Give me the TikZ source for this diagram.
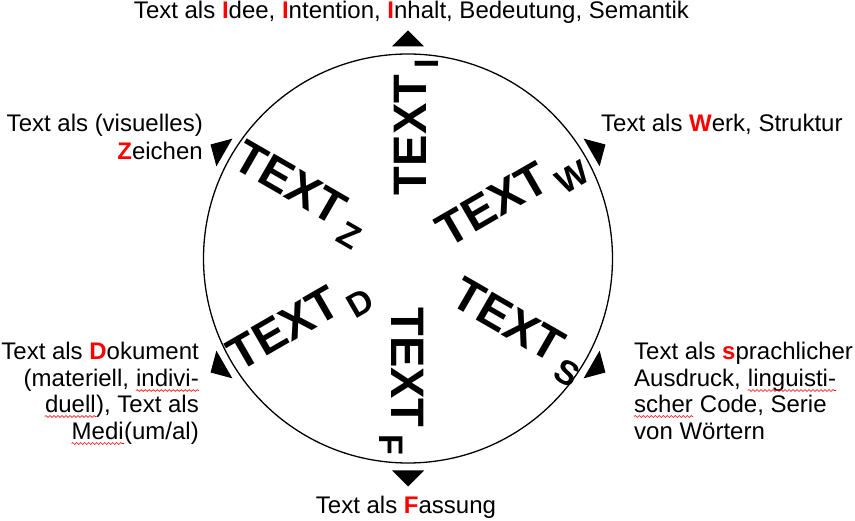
\documentclass[tikz,border=0pt]{standalone}
\usepackage{fontspec}
\setmainfont{Liberation Sans}
\usetikzlibrary{decorations.pathmorphing}
\newcommand\R[1]{\textcolor{red}{\bfseries #1}}
\newcommand\tsub[1]{\rlap{\hspace{6.5pt}\smash{\raisebox{-12pt}{\fontsize{34}{34}\selectfont #1}}}}
\tikzset{
  big/.style={font=\fontsize{47}{47}\selectfont\bfseries, inner sep=0pt},
  lbl/.style={font=\fontsize{24}{27.6}\selectfont, inner sep=0pt},
  ring/.style={line width=1.3pt},
  tri/.style={fill=black},
  squig/.style={draw=red, line width=0.6pt, decorate,
    decoration={snake, amplitude=0.9pt, segment length=4pt}}
}
\begin{document}
\begin{tikzpicture}[x=1pt,y=1pt]
\useasboundingbox (0,0) rectangle (855,-521);
\coordinate (c) at (408,-258.5);
\draw[ring] (c) circle (204.5);
\foreach \a in {90,30,150,210,270,330}{
  \begin{scope}[shift={(c)}, rotate=\a]
    \fill[tri] (212,-16) -- (228,0) -- (212,16) -- cycle;
  \end{scope}
}
% big TEXT labels
\node[big, rotate=90]  (ti) at (410.5,-135)   {TEXT\tsub{I}};
\node[big, rotate=-90] (tf) at (407.5,-367.5) {TEXT\tsub{F}};
\node[big, rotate=30]  (tw) at (492.5,-204)   {TEXT\tsub{W}};
\node[big, rotate=-30] (ts) at (508.3,-320)   {TEXT\tsub{S}};
\node[big, rotate=-30] (tz) at (290.7,-182.5) {TEXT\tsub{Z}};
\node[big, rotate=30]  (td) at (283.3,-328.3) {TEXT\tsub{D}};
% outer labels
\node[lbl, anchor=base] (lt) at (411.5,-18.5) {Text als \R{I}dee, \R{I}ntention, \R{I}nhalt, Bedeutung, Semantik};
\node[lbl, anchor=base east] (z1) at (203,-132) {Text als (visuelles)};
\node[lbl, anchor=base east] (z2) at (203,-160) {\R{Z}eichen};
\node[lbl, anchor=base west] (w1) at (601,-132) {Text als \R{W}erk, Struktur};
% Dokument
\node[lbl, anchor=base east] (d1) at (199,-360) {Text als \R{D}okument};
\node[lbl, anchor=base east] (d2b) at (199,-387) {indivi-};
\node[lbl, anchor=base east] (d2a) at (d2b.base west) {(materiell,\ \null};
\node[lbl, anchor=base east] (d3b) at (199,-413) {), Text als};
\node[lbl, anchor=base east] (d3a) at (d3b.base west) {duell};
\node[lbl, anchor=base east] (d4b) at (199,-440) {(um/al)};
\node[lbl, anchor=base east] (d4a) at (d4b.base west) {Medi};
% sprachlich
\node[lbl, anchor=base west] (s1) at (634,-360) {Text als \R{s}prachlicher};
\node[lbl, anchor=base west] (s2a) at (634,-387) {Ausdruck,\ \null};
\node[lbl, anchor=base west] (s2b) at (s2a.base east) {linguisti-};
\node[lbl, anchor=base west] (s3a) at (634,-413) {scher};
\node[lbl, anchor=base west] (s3b) at (s3a.base east) {\null\ Code, Serie};
\node[lbl, anchor=base west] (s4) at (634,-440) {von Wörtern};
\node[lbl, anchor=base] (lf) at (406,-513) {Text als \R{F}assung};
% spell-check squiggles
\foreach \n in {d2b,d3a,d4a,s2b,s3a}{
  \draw[squig] ([yshift=-3.5pt]\n.base west) -- ([yshift=-3.5pt]\n.base east);
}
\end{tikzpicture}
\end{document}
